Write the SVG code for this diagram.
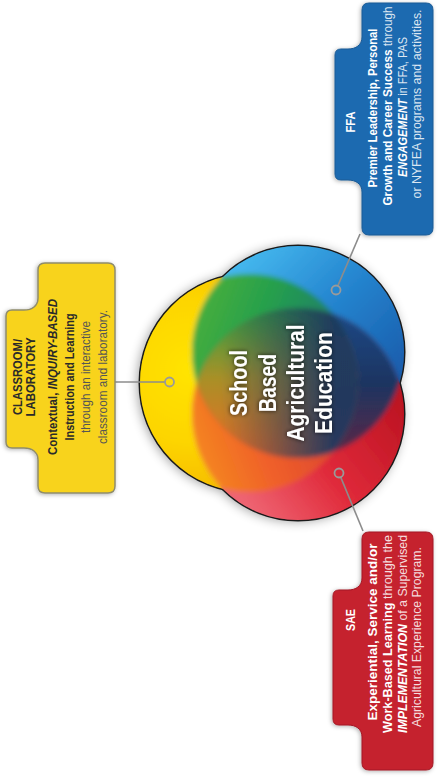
<svg xmlns="http://www.w3.org/2000/svg" width="438" height="783" viewBox="0 0 438 783">
<style>
  .t { font-family: "Liberation Sans", Arial, sans-serif; font-size: 12px; }
  .b { font-weight: bold; }
  .bi { font-weight: bold; font-style: italic; }
  .r { font-weight: normal; }
  .w { fill: #ffffff; }
  .wl { fill: #ffffff; fill-opacity: 0.85; }
  .dk { fill: #2a2a2a; }
  .dr { fill: #555555; }
  .big { font-family: "Liberation Sans", Arial, sans-serif; font-size: 24px; font-weight: bold; fill: #ffffff; }
  .conn { stroke: #8c8c8c; stroke-width: 1.6; fill: none; }
  .dot { stroke: #9a9a9a; stroke-width: 1.8; fill: none; }
</style>
<defs>
  <filter id="boxShadow" x="-20%" y="-20%" width="140%" height="140%">
    <feDropShadow dx="-1" dy="1" stdDeviation="2" flood-color="#000" flood-opacity="0.3"/>
  </filter>
  <filter id="vennShadow" x="-20%" y="-20%" width="140%" height="140%">
    <feGaussianBlur stdDeviation="6"/>
  </filter>
  <filter id="soft" x="-10%" y="-10%" width="120%" height="120%">
    <feGaussianBlur stdDeviation="2.5"/>
  </filter>
  <filter id="glow" x="-20%" y="-20%" width="140%" height="140%">
    <feDropShadow dx="0" dy="0" stdDeviation="2" flood-color="#000" flood-opacity="0.75"/>
  </filter>
  <circle id="cirY" cx="249" cy="383" r="109"/>
  <circle id="cirB" cx="298" cy="352" r="106"/>
  <circle id="cirR" cx="298" cy="414" r="106"/>
  <clipPath id="cY"><circle cx="249" cy="383" r="109"/></clipPath>
  <clipPath id="cB"><circle cx="298" cy="352" r="106"/></clipPath>
  <clipPath id="uni">
    <circle cx="249" cy="383" r="109"/>
    <circle cx="298" cy="352" r="106"/>
    <circle cx="298" cy="414" r="106"/>
  </clipPath>
  <radialGradient id="gY" gradientUnits="userSpaceOnUse" cx="190" cy="370" r="120">
    <stop offset="0" stop-color="#FFE400"/>
    <stop offset="0.6" stop-color="#FDD500"/>
    <stop offset="1" stop-color="#F6BE00"/>
  </radialGradient>
  <linearGradient id="gB" gradientUnits="userSpaceOnUse" x1="250" y1="250" x2="395" y2="395">
    <stop offset="0" stop-color="#45B8EE"/>
    <stop offset="0.45" stop-color="#2586D0"/>
    <stop offset="1" stop-color="#1858A8"/>
  </linearGradient>
  <linearGradient id="gR" gradientUnits="userSpaceOnUse" x1="255" y1="515" x2="400" y2="400">
    <stop offset="0" stop-color="#EE6472"/>
    <stop offset="0.45" stop-color="#E02A3A"/>
    <stop offset="1" stop-color="#BC1422"/>
  </linearGradient>
  <linearGradient id="gG" gradientUnits="userSpaceOnUse" x1="200" y1="280" x2="330" y2="330">
    <stop offset="0" stop-color="#4CB03A"/>
    <stop offset="0.5" stop-color="#26A04C"/>
    <stop offset="1" stop-color="#1E8068"/>
  </linearGradient>
  <linearGradient id="gO" gradientUnits="userSpaceOnUse" x1="200" y1="480" x2="330" y2="430">
    <stop offset="0" stop-color="#F58A1E"/>
    <stop offset="0.5" stop-color="#F0602A"/>
    <stop offset="1" stop-color="#DC4630"/>
  </linearGradient>
  <linearGradient id="gN" gradientUnits="userSpaceOnUse" x1="340" y1="300" x2="340" y2="470">
    <stop offset="0" stop-color="#1B4C8C"/>
    <stop offset="0.5" stop-color="#1E3460"/>
    <stop offset="1" stop-color="#6A2440"/>
  </linearGradient>
  <linearGradient id="gT" gradientUnits="userSpaceOnUse" x1="0" y1="310" x2="0" y2="460">
    <stop offset="0" stop-color="#32A040"/>
    <stop offset="0.45" stop-color="#A89028"/>
    <stop offset="1" stop-color="#F06A24"/>
  </linearGradient>
  <linearGradient id="gT2" gradientUnits="userSpaceOnUse" x1="220" y1="0" x2="335" y2="0">
    <stop offset="0" stop-color="#1C3560" stop-opacity="0"/>
    <stop offset="1" stop-color="#1C3560" stop-opacity="0.95"/>
  </linearGradient>
</defs>

<!-- Venn diagram -->
<g id="node-venn">
  <g opacity="0.4" filter="url(#vennShadow)" transform="translate(-2,1)">
    <use href="#cirY" fill="#000"/>
    <use href="#cirB" fill="#000"/>
    <use href="#cirR" fill="#000"/>
  </g>
  <g fill="none" stroke="#1a1a1a" stroke-width="3">
    <use href="#cirY"/>
    <use href="#cirB"/>
    <use href="#cirR"/>
  </g>
  <g>
    <use href="#cirY" fill="url(#gY)"/>
    <use href="#cirB" fill="url(#gB)"/>
    <use href="#cirR" fill="url(#gR)"/>
  </g>
  <g clip-path="url(#uni)">
    <g filter="url(#soft)">
      <use href="#cirY" fill="url(#gY)"/>
      <use href="#cirB" fill="url(#gB)"/>
      <use href="#cirR" fill="url(#gR)"/>
      <use href="#cirB" fill="url(#gG)" clip-path="url(#cY)"/>
      <use href="#cirR" fill="url(#gO)" clip-path="url(#cY)"/>
      <use href="#cirR" fill="url(#gN)" clip-path="url(#cB)"/>
      <g clip-path="url(#cY)">
        <use href="#cirR" fill="url(#gT)" clip-path="url(#cB)"/>
        <use href="#cirR" fill="url(#gT2)" clip-path="url(#cB)"/>
      </g>
    </g>
  </g>
  <g class="big" text-anchor="middle" filter="url(#glow)">
    <text transform="translate(247,383) rotate(-90)" textLength="66" lengthAdjust="spacingAndGlyphs">School</text>
    <text transform="translate(275.5,383) rotate(-90)" textLength="58" lengthAdjust="spacingAndGlyphs">Based</text>
    <text transform="translate(303.5,383) rotate(-90)" textLength="117" lengthAdjust="spacingAndGlyphs">Agricultural</text>
    <text transform="translate(332,383) rotate(-90)" textLength="102" lengthAdjust="spacingAndGlyphs">Education</text>
  </g>
</g>

<!-- Connectors -->
<g id="connectors">
  <line class="conn" x1="115" y1="382" x2="165" y2="382"/>
  <circle class="dot" cx="169.5" cy="382" r="4.5"/>
  <line class="conn" x1="337.8" y1="285.9" x2="360" y2="234"/>
  <circle class="dot" cx="336" cy="290" r="4.5"/>
  <line class="conn" x1="340.7" y1="477.1" x2="363" y2="531"/>
  <circle class="dot" cx="339" cy="473" r="4.5"/>
</g>

<!-- CLASSROOM / LABORATORY -->
<g id="node-classroom">
  <path filter="url(#boxShadow)" fill="#F8D31B" stroke="#8f8c6c" stroke-width="1.5"
    d="M 45 263 H 108 Q 115 263 115 270 V 486 Q 115 493 108 493 H 45 Q 38 493 38 486 V 460 C 38 452 32 448 24 448 H 12 Q 6 448 6 442 V 316 Q 6 310 12 310 H 24 C 32 310 38 306 38 298 V 270 Q 38 263 45 263 Z"/>
  <g class="t" text-anchor="middle">
    <text class="b dk" transform="translate(21.5,377) rotate(-90)" textLength="76" lengthAdjust="spacingAndGlyphs">CLASSROOM/</text>
    <text class="b dk" transform="translate(34.5,377) rotate(-90)" textLength="79" lengthAdjust="spacingAndGlyphs">LABORATORY</text>
    <text class="dk" transform="translate(57,377) rotate(-90)" textLength="156" lengthAdjust="spacingAndGlyphs"><tspan class="b">Contextual, </tspan><tspan class="bi">INQUIRY-BASED</tspan></text>
    <text class="b dk" transform="translate(73.5,377) rotate(-90)" textLength="127" lengthAdjust="spacingAndGlyphs">Instruction and Learning</text>
    <text class="r dr" transform="translate(90,377) rotate(-90)" textLength="112" lengthAdjust="spacingAndGlyphs">through an interactive</text>
    <text class="r dr" transform="translate(106.5,377) rotate(-90)" textLength="134" lengthAdjust="spacingAndGlyphs">classroom and laboratory.</text>
  </g>
</g>

<!-- FFA -->
<g id="node-ffa">
  <path filter="url(#boxShadow)" fill="#1E6BB0" stroke="#1a5a95" stroke-width="1"
    d="M 369 3 H 426 Q 433 3 433 10 V 228 Q 433 235 426 235 H 369 Q 362 235 362 228 V 192 C 362 184 356 180 348 180 H 341 Q 335 180 335 174 V 55 Q 335 49 341 49 H 348 C 356 49 362 45 362 37 V 10 Q 362 3 369 3 Z"/>
  <g class="t" text-anchor="middle">
    <text class="b w" transform="translate(354.5,122) rotate(-90)" textLength="21" lengthAdjust="spacingAndGlyphs">FFA</text>
    <text class="b w" transform="translate(376.5,108) rotate(-90)" textLength="159" lengthAdjust="spacingAndGlyphs">Premier Leadership, Personal</text>
    <text transform="translate(392,106) rotate(-90)" textLength="199" lengthAdjust="spacingAndGlyphs"><tspan class="b w">Growth and Career Success</tspan><tspan class="r wl"> through</tspan></text>
    <text transform="translate(406.5,107) rotate(-90)" textLength="140" lengthAdjust="spacingAndGlyphs"><tspan class="bi w">ENGAGEMENT</tspan><tspan class="r wl"> in FFA, PAS</tspan></text>
    <text class="r wl" transform="translate(421,104) rotate(-90)" textLength="189" lengthAdjust="spacingAndGlyphs">or NYFEA programs and activities.</text>
  </g>
</g>

<!-- SAE -->
<g id="node-sae">
  <path filter="url(#boxShadow)" fill="#C5202E" stroke="#a31a26" stroke-width="1"
    d="M 369 532 H 426 Q 433 532 433 539 V 763 Q 433 770 426 770 H 369 Q 362 770 362 763 V 737 C 362 729 356 725 348 725 H 339 Q 333 725 333 719 V 596 Q 333 590 339 590 H 348 C 356 590 362 586 362 578 V 539 Q 362 532 369 532 Z"/>
  <g class="t" text-anchor="middle">
    <text class="b w" transform="translate(354.5,620) rotate(-90)" textLength="22" lengthAdjust="spacingAndGlyphs">SAE</text>
    <text class="b w" transform="translate(376.5,632) rotate(-90)" textLength="177" lengthAdjust="spacingAndGlyphs">Experiential, Service and/or</text>
    <text transform="translate(391.5,634) rotate(-90)" textLength="198" lengthAdjust="spacingAndGlyphs"><tspan class="b w">Work-Based Learning</tspan><tspan class="r wl"> through the</tspan></text>
    <text transform="translate(406.5,634) rotate(-90)" textLength="198" lengthAdjust="spacingAndGlyphs"><tspan class="bi w">IMPLEMENTATION</tspan><tspan class="r wl"> of a Supervised</tspan></text>
    <text class="r wl" transform="translate(421,637) rotate(-90)" textLength="180" lengthAdjust="spacingAndGlyphs">Agricultural Experience Program.</text>
  </g>
</g>
</svg>
